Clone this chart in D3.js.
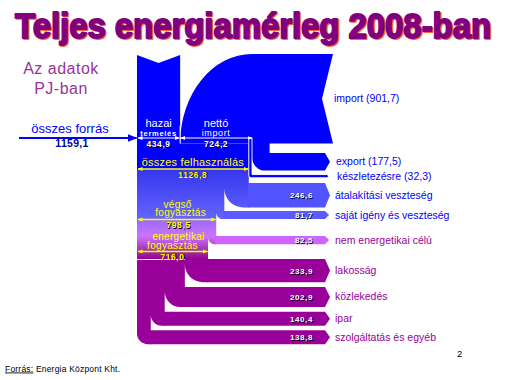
<!DOCTYPE html>
<html lang="hu">
<head>
<meta charset="utf-8">
<style>
  body { margin: 0; background: #fff; }
  svg text { font-family: "Liberation Sans", Arial, sans-serif; }
</style>
</head>
<body>
<svg id="chart" width="507" height="380"></svg>
<script src="https://cdnjs.cloudflare.com/ajax/libs/d3/7.8.5/d3.min.js"></script>
<script>
// Teljes energiamérleg 2008, PJ
var sourceNames = ["hazai", "nettó"];
var sourceSub = ["termelés", "import"];
var sourceValues = [434.9, 724.2];
var totalSource = 1159.1;
var importValue = 901.7;
var exportValue = 177.5;
var stockValue = 32.3;
var totalUse = 1126.8;
var lossNames = ["átalakítási veszteség", "saját igény és veszteség"];
var lossValues = [246.6, 81.7];
var finalUse = 798.5;
var nonEnergyName = "nem energetikai célú";
var nonEnergyValue = 82.5;
var energyUse = 716.0;
var sectorNames = ["lakosság", "közlekedés", "ipar", "szolgáltatás és egyéb"];
var sectorValues = [233.9, 202.9, 140.4, 138.8];

// layout
var x0 = 137, importTop = 54, xRight = 333, notch = 11;
var xEnd = 325, labelX = 335, valX = 313;
var exportGap = 9.5, stockGap = 4;
var lossTop = 183, lossGap = 3.5, nonEnergyTop = 236, sectorTop = 259, sectorGap = 4.7;
var sourceLineY = 138, useLineY = 169, finalLineY = 219.5, energyLineY = 251.5;
var blue = "#0000ff", purple = "#990099";

var fmt = d3.formatLocale({decimal: ",", thousands: " ", grouping: [3], currency: ["", ""]}).format(".1f");
var w = d3.scaleLinear().domain([0, totalSource]).range([0, 115]);

var svg = d3.select("#chart");
var defs = svg.append("defs");

var xDom = x0 + w(sourceValues[0]);
var xNet = xDom + w(sourceValues[1]);
var xImp = xDom + w(importValue);
var xUse = x0 + w(totalUse);
var importBottom = importTop + w(importValue);

// exits from the main column
var exits = [];
var right = xUse, y = lossTop;
lossValues.forEach(function(v, i) {
  exits.push({name: lossNames[i], value: v, top: y, h: w(v), right: right, left: right - w(v), color: i ? "#5a5aff" : "#5252ff", label: blue});
  right -= w(v); y += w(v) + lossGap;
});
var finalRight = right;
exits.push({name: nonEnergyName, value: nonEnergyValue, top: nonEnergyTop, h: w(nonEnergyValue), right: right, left: right - w(nonEnergyValue), color: "#cc66ff", label: purple});
right -= w(nonEnergyValue);
var energyRight = right;
y = sectorTop;
sectorValues.forEach(function(v, i) {
  exits.push({name: sectorNames[i], value: v, top: y, h: w(v), right: right, left: right - w(v), color: purple, label: purple});
  right -= w(v); y += w(v) + sectorGap;
});

// gradient for the column
var gradTop = importBottom, gradBottom = 350;
var gradStops = [[gradTop, "#0000ff"], [useLineY - 0.5, "#0000ff"], [useLineY + 1, "#3636f0"], [finalLineY - 1, "#6464ff"],
  [finalLineY + 1, "#9c6aff"], [236, "#cc74ff"], [246, "#b044c8"], [energyLineY + 1, "#9c2a9f"], [sectorTop, purple], [gradBottom, purple]];
defs.append("linearGradient").attr("id", "colGrad").attr("gradientUnits", "userSpaceOnUse")
  .attr("x1", 0).attr("x2", 0).attr("y1", gradTop).attr("y2", gradBottom)
  .selectAll("stop").data(gradStops).join("stop")
  .attr("offset", function(d) { return (d[0] - gradTop) / (gradBottom - gradTop); })
  .attr("stop-color", function(d) { return d[1]; });

function marker(id, color, size) {
  defs.append("marker").attr("id", id).attr("viewBox", "0 0 10 10").attr("refX", 9).attr("refY", 5)
    .attr("markerWidth", size).attr("markerHeight", size).attr("markerUnits", "userSpaceOnUse")
    .attr("orient", "auto-start-reverse")
    .append("path").attr("d", "M0,1L10,5L0,9Z").attr("fill", color);
}
marker("mBlue", blue, 10);
marker("mWhite", "#fff", 5);
marker("mYellow", "#ffff00", 5);

// import blob
var ry = importBottom - importTop, rx = xNet - xDom;
svg.append("path")
  .attr("d", "M" + xRight + "," + importTop + "L" + xNet + "," + importTop +
    "A" + rx + "," + ry + " 0 0 0 " + xDom + "," + importBottom +
    "L" + xRight + "," + importBottom + "L" + (xRight - notch) + "," + (importTop + ry / 2) + "Z")
  .attr("fill", blue);

// export band
var expTop = importBottom + exportGap, expW = w(exportValue);
var pe = d3.path();
pe.moveTo(xNet, importBottom - 1);
pe.lineTo(xImp, importBottom - 1);
pe.lineTo(xImp, expTop);
pe.lineTo(xEnd, expTop);
pe.lineTo(xEnd + 5, expTop + expW / 2);
pe.lineTo(xEnd, expTop + expW);
pe.arcTo(xNet, expTop + expW, xNet, expTop, 0.75 * expW);
pe.closePath();
svg.append("path").attr("d", pe.toString()).attr("fill", blue);

// domestic production column
svg.append("path")
  .attr("d", "M" + x0 + "," + (importTop + 1) + "L" + ((x0 + xDom) / 2) + "," + (importTop + 9) +
    "L" + xDom + "," + (importTop + 1) + "L" + xDom + "," + (importBottom + 1) + "L" + x0 + "," + (importBottom + 1) + "Z")
  .attr("fill", blue);

// main column
var pc = d3.path();
pc.moveTo(x0, importBottom);
pc.lineTo(xUse, importBottom);
exits.forEach(function(e) {
  var b = e.top + e.h;
  pc.lineTo(e.right, b);
  pc.arcTo(e.left, b, e.left, e.top, 0.78 * e.h);
});
pc.closePath();
svg.append("path").attr("d", pc.toString()).attr("fill", "url(#colGrad)");

// stock band
var stTop = expTop + expW + stockGap, stW = w(stockValue);
var ps = d3.path();
ps.moveTo(xUse, sourceLineY);
ps.lineTo(xNet, sourceLineY);
ps.lineTo(xNet, stTop);
ps.lineTo(xEnd + 2, stTop);
ps.lineTo(xEnd + 4, stTop + stW / 2);
ps.lineTo(xEnd + 2, stTop + stW);
ps.arcTo(xUse, stTop + stW, xUse, stTop, 0.75 * stW);
ps.closePath();
svg.append("path").attr("d", ps.toString()).attr("fill", blue).attr("stroke", "#fff").attr("stroke-width", 0.9);

// horizontal exit bands
svg.selectAll(".band").data(exits).join("path").attr("class", "band")
  .attr("fill", function(e) { return e.color; })
  .attr("d", function(e) {
    var tip = Math.min(5, e.h / 2), p = d3.path();
    p.moveTo(e.right - 1, e.top);
    p.lineTo(xEnd, e.top);
    p.lineTo(xEnd + tip, e.top + e.h / 2);
    p.lineTo(xEnd, e.top + e.h);
    p.lineTo(e.right - 1, e.top + e.h);
    p.closePath();
    return p.toString();
  });

// white separator above sectors
svg.append("line").attr("x1", x0).attr("x2", exits[3].left).attr("y1", sectorTop + 0.5).attr("y2", sectorTop + 0.5)
  .attr("stroke", "#fff").attr("stroke-width", 1);

// dimension lines
function dimLine(xa, xb, yy, color, mk, sw) {
  svg.append("line").attr("x1", xa).attr("x2", xb).attr("y1", yy).attr("y2", yy)
    .attr("stroke", color).attr("stroke-width", sw)
    .attr("marker-start", "url(#" + mk + ")").attr("marker-end", "url(#" + mk + ")");
}
dimLine(x0 + 1, xDom - 0.5, sourceLineY, "#fff", "mWhite", 1.2);
dimLine(xDom + 0.5, xNet, sourceLineY, "#fff", "mWhite", 1.2);
svg.append("line").attr("x1", xDom).attr("x2", xDom).attr("y1", 126).attr("y2", importBottom)
  .attr("stroke", "#fff").attr("stroke-width", 1);
dimLine(x0 + 1, xUse - 0.5, useLineY, "#ffff00", "mYellow", 1.4);
dimLine(x0 + 1, finalRight - 0.5, finalLineY, "#ffff00", "mYellow", 1.4);
dimLine(x0 + 1, energyRight - 0.5, energyLineY, "#ffff00", "mYellow", 1.4);

svg.append("line").attr("x1", 19).attr("x2", x0 - 0.5).attr("y1", sourceLineY).attr("y2", sourceLineY)
  .attr("stroke", blue).attr("stroke-width", 2).attr("marker-end", "url(#mBlue)");

// text helpers
function txt(x, yy, s, opt) {
  opt = opt || {};
  var t = svg.append("text").attr("x", x).attr("y", yy).text(s)
    .attr("text-anchor", opt.anchor || "start")
    .attr("fill", opt.fill || "#000")
    .style("font-size", (opt.size || 10) + "px")
    .style("font-weight", opt.bold ? "bold" : "normal");
  if (opt.ls) t.style("letter-spacing", opt.ls + "px");
  return t;
}
function shadowTxt(x, yy, s, opt) {
  var o = Object.assign({}, opt, {fill: "#000"});
  txt(x + 0.9, yy + 0.9, s, o);
  return txt(x, yy, s, opt);
}
// two-line label in one text element
function twoLine(x, y1, dy, a, b, opt) {
  var t = txt(x, y1, "", opt);
  t.append("tspan").attr("x", x).text(a);
  t.append("tspan").attr("x", x + (opt.dx2 || 0)).attr("dy", dy).text(b);
  return t;
}

// title (narrow heavy face: scaled vertically)
[["#ff6633", 1.3], ["#800080", 0]].forEach(function(d) {
  txt(0, 0, "Teljes energiamérleg 2008-ban", {fill: d[0], size: 28, bold: true})
    .attr("transform", "translate(" + (15 + d[1]) + "," + (37.5 + d[1]) + ") scale(1,1.25)")
    .attr("textLength", 476).attr("lengthAdjust", "spacingAndGlyphs")
    .attr("stroke", d[0]).attr("stroke-width", 1.4).attr("stroke-linejoin", "round");
});

twoLine(61, 73.5, 20, "Az adatok", "PJ-ban", {anchor: "middle", fill: "#993399", size: 16, ls: 0.5});

txt(70, 132.5, "összes forrás", {anchor: "middle", fill: blue, size: 13});
txt(72, 147, fmt(totalSource), {anchor: "middle", fill: "#000099", size: 10.5, bold: true, ls: 0.3});

var srcX = [(x0 + xDom) / 2, (xDom + xNet) / 2];
sourceValues.forEach(function(v, i) {
  var t = txt(srcX[i], 127, "", {anchor: "middle", fill: "#fff", size: 11});
  t.append("tspan").attr("x", srcX[i]).text(sourceNames[i]);
  t.append("tspan").attr("x", srcX[i]).attr("dy", 8.5).text(sourceSub[i])
    .style("font-size", i ? "9px" : "7.5px").style("font-weight", i ? "normal" : "bold")
    .style("letter-spacing", i ? "0.6px" : "0.7px");
  shadowTxt(srcX[i], 146.8, fmt(v), {anchor: "middle", fill: "#fff", size: 8.5, bold: true, ls: 0.6});
});

var yellow = "#ffff00";
txt((x0 + xUse) / 2, 165.5, "összes felhasználás", {anchor: "middle", fill: yellow, size: 11, ls: 0.2});
shadowTxt((x0 + xUse) / 2, 177.5, fmt(totalUse), {anchor: "middle", fill: yellow, size: 8.5, bold: true, ls: 0.6});
twoLine((x0 + finalRight) / 2 + 1, 208, 8.3, "végső", "fogyasztás", {anchor: "middle", fill: yellow, size: 10, ls: 0.3, dx2: 3});
shadowTxt((x0 + finalRight) / 2 + 2, 228, fmt(finalUse), {anchor: "middle", fill: yellow, size: 8.5, bold: true, ls: 0.6});
twoLine((x0 + energyRight) / 2 + 6, 240.2, 8.3, "energetikai", "fogyasztás", {anchor: "middle", fill: yellow, size: 10, ls: 0.3, dx2: -6});
shadowTxt((x0 + energyRight) / 2, 259.5, fmt(energyUse), {anchor: "middle", fill: yellow, size: 8.5, bold: true, ls: 0.6});

// right side labels
txt(334, importTop + ry / 2 + 3.5, "import (" + fmt(importValue) + ")", {fill: blue, size: 10.5});
txt(labelX + 1, expTop + expW / 2 + 3.5, "export (" + fmt(exportValue) + ")", {fill: blue, size: 10.5});
txt(labelX + 2, stTop + stW / 2 + 3.5, "készletezésre (" + fmt(stockValue) + ")", {fill: blue, size: 10.5});

exits.forEach(function(e) {
  txt(labelX, e.top + e.h / 2 + 3.5, e.name, {fill: e.label, size: 10.5});
  shadowTxt(valX, e.top + e.h / 2 + 3, fmt(e.value), {anchor: "end", fill: "#fff", size: 8, bold: true, ls: 0.6});
});

txt(457, 357, "2", {size: 9.5});
var src = txt(5, 371.5, "", {size: 8.5, ls: 0.2});
src.append("tspan").text("Forrás:").style("text-decoration", "underline");
src.append("tspan").text(" Energia Központ Kht.");
</script>
</body>
</html>
